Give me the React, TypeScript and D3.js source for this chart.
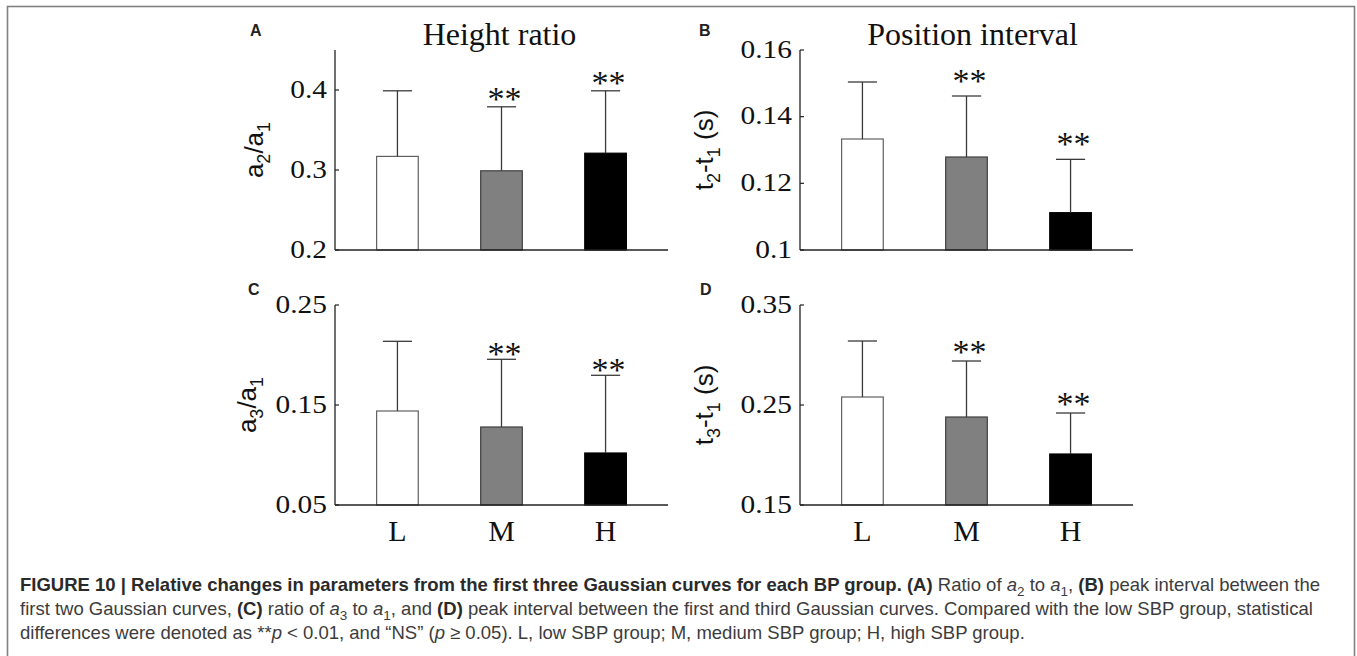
import React from 'react';
import * as d3 from 'd3';

// Blood-pressure groups
const categories = ['L', 'M', 'H'];

// Height ratio a2/a1 (mean, SD)
const heightRatioMean = [0.317, 0.299, 0.321];
const heightRatioSd = [0.082, 0.08, 0.078];

// Position interval t2 - t1 in seconds (mean, SD)
const posIntervalMean = [0.1333, 0.1279, 0.1112];
const posIntervalSd = [0.0171, 0.0183, 0.016];

// Height ratio a3/a1 (mean, SD)
const ratio31Mean = [0.144, 0.128, 0.102];
const ratio31Sd = [0.0697, 0.0677, 0.0777];

// Interval t3 - t1 in seconds (mean, SD)
const interval31Mean = [0.258, 0.238, 0.201];
const interval31Sd = [0.056, 0.056, 0.041];

// Significance versus the low group
const sigMarks = ['', '**', '**'];

// Y tick values and labels
const ticksA = [0.2, 0.3, 0.4];
const tickLabelsA = ['0.2', '0.3', '0.4'];
const ticksB = [0.1, 0.12, 0.14, 0.16];
const tickLabelsB = ['0.1', '0.12', '0.14', '0.16'];
const ticksC = [0.05, 0.15, 0.25];
const tickLabelsC = ['0.05', '0.15', '0.25'];
const ticksD = [0.15, 0.25, 0.35];
const tickLabelsD = ['0.15', '0.25', '0.35'];

const barFills = ['#ffffff', '#808080', '#000000'];
const barStrokes = ['#606060', '#404040', '#000000'];

const SERIF = '"Liberation Serif", "Times New Roman", serif';
const SANS = '"Liberation Sans", Arial, Helvetica, sans-serif';

type YLabelPart = { t: string; sub?: boolean };

type PanelSpec = {
  letter: string;
  letterX: number;
  letterY: number;
  title?: string;
  titleDx?: number;
  left: number;
  right: number;
  top: number;
  bottom: number;
  domain: [number, number];
  ticks: number[];
  tickLabels: string[];
  mean: number[];
  sd: number[];
  starGap: number;
  yLabel: YLabelPart[];
  yLabelX: number;
  showCategories: boolean;
};

const panels: PanelSpec[] = [
  {
    letter: 'A', letterX: 250, letterY: 36, title: 'Height ratio', titleDx: -2,
    left: 335, right: 668, top: 50, bottom: 250, domain: [0.2, 0.45],
    ticks: ticksA, tickLabels: tickLabelsA, mean: heightRatioMean, sd: heightRatioSd,
    starGap: 5.5,
    yLabel: [{ t: 'a' }, { t: '2', sub: true }, { t: '/a' }, { t: '1', sub: true }],
    yLabelX: 263, showCategories: false,
  },
  {
    letter: 'B', letterX: 699, letterY: 36, title: 'Position interval', titleDx: 6,
    left: 800, right: 1133, top: 50, bottom: 250, domain: [0.1, 0.16],
    ticks: ticksB, tickLabels: tickLabelsB, mean: posIntervalMean, sd: posIntervalSd,
    starGap: 13.5,
    yLabel: [{ t: 't' }, { t: '2', sub: true }, { t: '-t' }, { t: '1', sub: true }, { t: ' (s)' }],
    yLabelX: 713, showCategories: false,
  },
  {
    letter: 'C', letterX: 248, letterY: 295,
    left: 335, right: 668, top: 305, bottom: 505, domain: [0.05, 0.25],
    ticks: ticksC, tickLabels: tickLabelsC, mean: ratio31Mean, sd: ratio31Sd,
    starGap: 3.3,
    yLabel: [{ t: 'a' }, { t: '3', sub: true }, { t: '/a' }, { t: '1', sub: true }],
    yLabelX: 256, showCategories: true,
  },
  {
    letter: 'D', letterX: 700, letterY: 295,
    left: 800, right: 1133, top: 305, bottom: 505, domain: [0.15, 0.35],
    ticks: ticksD, tickLabels: tickLabelsD, mean: interval31Mean, sd: interval31Sd,
    starGap: 7,
    yLabel: [{ t: 't' }, { t: '3', sub: true }, { t: '-t' }, { t: '1', sub: true }, { t: ' (s)' }],
    yLabelX: 713, showCategories: true,
  },
];

function Panel({ p }: { p: PanelSpec }) {
  const x = d3.scaleLinear().domain([0.4, 3.6]).range([p.left, p.right]);
  const y = d3.scaleLinear().domain(p.domain).range([p.bottom, p.top]);
  const halfBar = 0.2;
  const capHalf = 0.14;
  const midX = (p.left + p.right) / 2;
  const midY = (p.top + p.bottom) / 2;
  const base = p.domain[0];

  let subOpen = false;
  return (
    <g>
      <text x={p.letterX} y={p.letterY} fontFamily={SANS} fontWeight="bold" fontSize={16} fill="#222">
        {p.letter}
      </text>
      {p.title && (
        <text x={midX + (p.titleDx || 0)} y={45} textAnchor="middle" fontFamily={SERIF} fontSize={32} fill="#111">
          {p.title}
        </text>
      )}

      {/* bars */}
      {categories.map((c, i) => {
        const x0 = x(i + 1 - halfBar);
        const x1 = x(i + 1 + halfBar);
        const yt = y(p.mean[i]);
        return (
          <rect key={'bar' + c} x={x0} y={yt} width={x1 - x0} height={y(base) - yt}
            fill={barFills[i]} stroke={barStrokes[i]} strokeWidth={1.2} />
        );
      })}

      {/* upper error bars */}
      {categories.map((c, i) => {
        const cx = x(i + 1);
        const yt = y(p.mean[i]);
        const yc = y(p.mean[i] + p.sd[i]);
        return (
          <g key={'err' + c} stroke="#3a3a3a" strokeWidth={1.3}>
            <line x1={cx} x2={cx} y1={yt} y2={yc} />
            <line x1={x(i + 1 - capHalf)} x2={x(i + 1 + capHalf)} y1={yc} y2={yc} />
          </g>
        );
      })}

      {/* significance stars */}
      {categories.map((c, i) =>
        sigMarks[i] ? (
          <text key={'sig' + c} x={x(i + 1) + 3} y={y(p.mean[i] + p.sd[i]) - p.starGap + 9}
            textAnchor="middle" fontFamily={SERIF} fontSize={34} fill="#111">
            {sigMarks[i]}
          </text>
        ) : null
      )}

      {/* axes */}
      <line x1={p.left} x2={p.left} y1={p.top} y2={p.bottom} stroke="#222" strokeWidth={1.3} />
      <line x1={p.left} x2={p.right} y1={p.bottom} y2={p.bottom} stroke="#222" strokeWidth={1.3} />

      {p.ticks.map((t, k) => (
        <g key={'tick' + k}>
          <line x1={p.left} x2={p.left + 4} y1={y(t)} y2={y(t)} stroke="#222" strokeWidth={1.2} />
          <text transform={`translate(${p.left - 8},${y(t) + 7.5}) scale(1.2,1)`} textAnchor="end"
            fontFamily={SERIF} fontSize={24.5} fill="#111">
            {p.tickLabels[k]}
          </text>
        </g>
      ))}

      {p.showCategories &&
        categories.map((c, i) => (
          <text key={'cat' + c} x={x(i + 1)} y={p.bottom + 36} textAnchor="middle" fontFamily={SERIF} fontSize={30} fill="#111">
            {c}
          </text>
        ))}

      <text transform={`translate(${p.yLabelX},${midY}) rotate(-90)`} textAnchor="middle"
        fontFamily={SANS} fontSize={26} fill="#111">
        {p.yLabel.map((part, k) => {
          let dy = 0;
          if (part.sub && !subOpen) { dy = 7; subOpen = true; }
          else if (!part.sub && subOpen) { dy = -7; subOpen = false; }
          return (
            <tspan key={k} dy={dy} fontSize={part.sub ? 18 : 26}>{part.t}</tspan>
          );
        })}
      </text>
    </g>
  );
}

type Seg = { t: string; b?: boolean; i?: boolean; sub?: boolean };

const captionLines: Seg[][] = [
  [
    { t: 'FIGURE 10 | Relative changes in parameters from the first three Gaussian curves for each BP group. (A)', b: true },
    { t: ' Ratio of ' }, { t: 'a', i: true }, { t: '2', sub: true }, { t: ' to ' }, { t: 'a', i: true }, { t: '1', sub: true },
    { t: ', ' }, { t: '(B)', b: true }, { t: ' peak interval between the' },
  ],
  [
    { t: 'first two Gaussian curves, ' }, { t: '(C)', b: true }, { t: ' ratio of ' }, { t: 'a', i: true }, { t: '3', sub: true },
    { t: ' to ' }, { t: 'a', i: true }, { t: '1', sub: true }, { t: ', and ' }, { t: '(D)', b: true },
    { t: ' peak interval between the first and third Gaussian curves. Compared with the low SBP group, statistical' },
  ],
  [
    { t: 'differences were denoted as **' }, { t: 'p', i: true }, { t: ' < 0.01, and \u201CNS\u201D (' }, { t: 'p', i: true },
    { t: ' \u2265 0.05). L, low SBP group; M, medium SBP group; H, high SBP group.' },
  ],
];

function Caption() {
  const baselines = [591, 615, 639];
  const fs = 18.5;
  return (
    <g fontFamily={SANS} fontSize={fs} fill="#3c3c3c">
      {captionLines.map((line, li) => {
        let subOpen = false;
        return (
          <text key={li} x={20} y={baselines[li]}>
            {line.map((s, k) => {
              let dy = 0;
              if (s.sub && !subOpen) { dy = 4.5; subOpen = true; }
              else if (!s.sub && subOpen) { dy = -4.5; subOpen = false; }
              return (
                <tspan key={k} dy={dy} fontWeight={s.b ? 'bold' : 'normal'} fontStyle={s.i ? 'italic' : 'normal'}
                  fontSize={s.sub ? 13.5 : fs} fill={s.b ? '#2a2a2a' : '#3c3c3c'}>
                  {s.t}
                </tspan>
              );
            })}
          </text>
        );
      })}
    </g>
  );
}

export default function App() {
  return (
    <svg width={1357} height={656} style={{ position: 'absolute', left: 0, top: 0, background: '#fff' }}>
      <rect x={0} y={0} width={1357} height={656} fill="#fff" />
      <rect x={7.5} y={6.5} width={1347} height={700} fill="none" stroke="#808080" strokeWidth={1.6} />
      {panels.map((p) => (
        <Panel key={p.letter} p={p} />
      ))}
      <Caption />
    </svg>
  );
}
